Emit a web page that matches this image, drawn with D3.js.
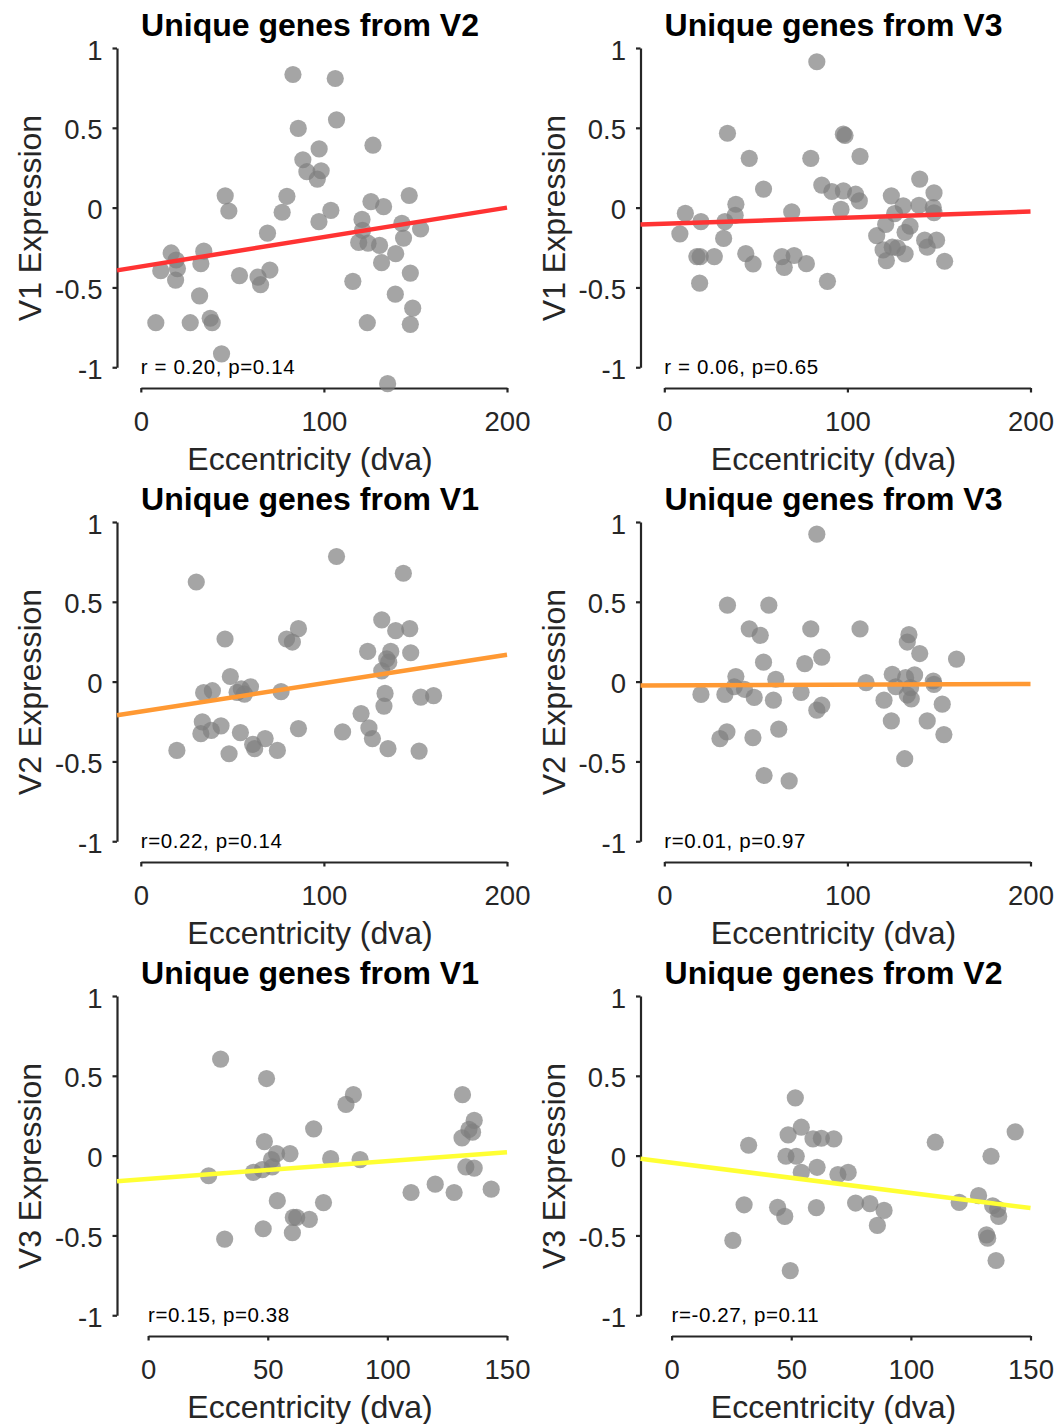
<!DOCTYPE html>
<meta charset="utf-8">
<script src="https://d3js.org/d3.v7.min.js"></script>
<style>
  body { margin: 0; background: #fff; }
  text { font-family: "Liberation Sans", Arial, Helvetica, sans-serif; }
</style>
<div id="my_dataviz"></div>
<script>

// ---- data: [eccentricity (dva), expression] ----
var v1FromV2 = [[83.1,0.834],[106.2,0.809],[106.9,0.550],[86.0,0.496],[126.8,0.391],[97.4,0.368],
  [88.5,0.300],[90.7,0.225],[98.5,0.231],[96.4,0.179],[46.1,0.074],[79.8,0.071],[146.6,0.076],
  [48.1,-0.021],[77.2,-0.029],[125.7,0.038],[132.6,0.006],[103.8,-0.017],[97.3,-0.088],[120.8,-0.074],
  [121.1,-0.143],[142.6,-0.099],[152.8,-0.134],[69.2,-0.160],[119.0,-0.218],[124.1,-0.223],[130.4,-0.237],
  [143.5,-0.191],[139.2,-0.288],[131.5,-0.345],[147.2,-0.410],[115.8,-0.462],[139.0,-0.542],[148.5,-0.630],
  [123.7,-0.721],[147.2,-0.731],[134.8,-1.103],[16.6,-0.284],[19.3,-0.328],[20.0,-0.382],[10.9,-0.395],
  [19.0,-0.454],[34.4,-0.273],[32.8,-0.351],[32.1,-0.553],[8.2,-0.721],[27.0,-0.721],[37.9,-0.693],
  [39.0,-0.721],[44.1,-0.916],[53.9,-0.426],[64.0,-0.435],[65.4,-0.483],[70.5,-0.391]];

var v1FromV3 = [[83.3,0.914],[34.5,0.466],[97.8,0.460],[98.7,0.452],[46.4,0.309],[80.0,0.309],
  [106.9,0.321],[54.2,0.116],[86.0,0.141],[91.5,0.101],[97.8,0.105],[104.5,0.084],[106.5,0.042],
  [96.5,-0.011],[139.5,0.179],[147.3,0.092],[124.0,0.074],[130.5,0.011],[139.1,0.015],[146.9,0.0],
  [147.3,-0.032],[125.8,-0.038],[120.9,-0.105],[134.2,-0.116],[131.5,-0.155],[116.0,-0.176],[142.2,-0.204],
  [148.7,-0.204],[143.6,-0.248],[119.5,-0.265],[124.5,-0.248],[127.3,-0.252],[131.5,-0.290],[121.3,-0.332],
  [153.1,-0.336],[69.6,-0.027],[11.5,-0.036],[20.0,-0.088],[39.1,0.021],[38.7,-0.048],[33.1,-0.088],
  [8.5,-0.164],[32.4,-0.193],[17.8,-0.307],[19.6,-0.307],[27.3,-0.307],[44.5,-0.288],[48.5,-0.353],
  [19.3,-0.473],[64.2,-0.307],[70.9,-0.300],[65.5,-0.374],[77.6,-0.351],[89.1,-0.462]];

var v2FromV1 = [[30.3,0.624],[106.9,0.784],[143.4,0.679],[46.0,0.267],[79.6,0.267],[82.8,0.248],
  [86.1,0.332],[131.6,0.387],[139.2,0.319],[146.9,0.332],[123.9,0.189],[136.5,0.189],[147.4,0.181],
  [134.3,0.143],[135.4,0.122],[131.6,0.067],[48.9,0.032],[34.3,-0.069],[39.1,-0.057],[52.6,-0.067],
  [54.9,-0.046],[59.9,-0.032],[56.6,-0.078],[76.6,-0.063],[133.4,-0.074],[132.8,-0.153],[152.9,-0.097],
  [159.9,-0.088],[120.3,-0.200],[33.6,-0.252],[32.8,-0.326],[38.5,-0.305],[43.8,-0.277],[54.4,-0.319],
  [61.1,-0.393],[62.2,-0.420],[67.9,-0.357],[86.1,-0.294],[110.2,-0.315],[124.6,-0.290],[126.5,-0.357],
  [19.7,-0.431],[48.2,-0.452],[74.6,-0.431],[135.0,-0.420],[152.0,-0.435]];

var v2FromV3 = [[83.3,0.924],[34.5,0.479],[57.1,0.479],[46.4,0.330],[52.4,0.290],[80.0,0.330],
  [106.9,0.330],[133.6,0.294],[132.7,0.248],[139.5,0.176],[159.6,0.141],[54.2,0.122],[76.7,0.113],
  [86.0,0.153],[39.1,0.032],[60.9,0.015],[38.2,-0.032],[43.8,-0.048],[20.0,-0.080],[33.1,-0.080],
  [49.1,-0.099],[59.6,-0.116],[74.7,-0.067],[86.0,-0.147],[83.3,-0.179],[110.2,-0.006],[124.5,0.046],
  [131.8,0.025],[136.7,0.042],[126.4,-0.032],[134.5,-0.038],[146.9,0.004],[147.3,-0.017],[132.7,-0.084],
  [134.9,-0.109],[120.0,-0.116],[151.8,-0.141],[124.0,-0.246],[143.6,-0.246],[152.7,-0.332],[131.3,-0.483],
  [34.2,-0.315],[30.4,-0.357],[48.4,-0.351],[62.5,-0.298],[54.5,-0.588],[68.2,-0.622]];

var v3FromV1 = [[30.3,0.605],[49.5,0.483],[85.8,0.382],[82.7,0.321],[69.2,0.168],[131.4,0.382],
  [136.3,0.221],[134.1,0.164],[135.6,0.147],[131.2,0.111],[48.6,0.088],[53.7,0.013],[59.3,0.013],
  [51.6,-0.025],[51.9,-0.071],[47.7,-0.088],[44.0,-0.105],[76.3,-0.019],[88.6,-0.025],[25.3,-0.126],
  [132.8,-0.071],[136.3,-0.078],[109.9,-0.231],[120.0,-0.179],[127.9,-0.231],[143.4,-0.210],[54.0,-0.282],
  [73.3,-0.294],[60.7,-0.387],[62.1,-0.387],[67.4,-0.399],[48.1,-0.458],[60.3,-0.483],[32.0,-0.523]];

var v3FromV2 = [[51.7,0.362],[54.2,0.178],[48.7,0.130],[59.1,0.105],[62.6,0.109],[67.8,0.105],
  [32.2,0.065],[110.2,0.084],[143.6,0.149],[47.8,-0.004],[52.1,-0.004],[133.5,-0.004],[60.8,-0.073],
  [54.2,-0.105],[69.5,-0.119],[73.8,-0.105],[30.3,-0.308],[44.3,-0.324],[47.3,-0.381],[60.5,-0.326],
  [76.9,-0.297],[82.9,-0.301],[88.8,-0.343],[86.0,-0.437],[120.2,-0.293],[128.3,-0.251],[134.2,-0.314],
  [136.3,-0.335],[136.7,-0.381],[131.6,-0.496],[132.1,-0.517],[135.6,-0.657],[25.6,-0.531],[49.6,-0.720]];

// regression lines: expression at the left and right ends of the x range
var fitEnds = [[-0.393, 0.000], [-0.106, -0.025], [-0.211, 0.168], [-0.025, -0.015], [-0.160, 0.021], [-0.020, -0.328]];

var titles = ["Unique genes from V2", "Unique genes from V3", "Unique genes from V1",
              "Unique genes from V3", "Unique genes from V1", "Unique genes from V2"];
var yLabels = ["V1 Expression", "V1 Expression", "V2 Expression", "V2 Expression", "V3 Expression", "V3 Expression"];
var stats = ["r = 0.20, p=0.14", "r = 0.06, p=0.65", "r=0.22, p=0.14", "r=0.01, p=0.97", "r=0.15, p=0.38", "r=-0.27, p=0.11"];
var xMax = [200, 200, 200, 200, 150, 150];
var xTicks = [[0, 100, 200], [0, 100, 200], [0, 100, 200], [0, 100, 200], [0, 50, 100, 150], [0, 50, 100, 150]];
var yTicks = [-1, -0.5, 0, 0.5, 1];
var lineColors = ["#ff3333", "#ff3333", "#ff9933", "#ff9933", "#ffff33", "#ffff33"];
var panels = [v1FromV2, v1FromV3, v2FromV1, v2FromV3, v3FromV1, v3FromV2];

// ---- layout ----
var W = 1057, H = 1424;
var plotW = 390, plotH = 340;
var lefts = [117, 640.5], tops = [48, 522, 996];
var axisColor = "#262626";

var svg = d3.select("#my_dataviz")
  .append("svg")
    .attr("width", W)
    .attr("height", H);

panels.forEach(function(data, i) {
  var col = i % 2, row = Math.floor(i / 2);
  var g = svg.append("g")
    .attr("transform", "translate(" + lefts[col] + "," + tops[row] + ")");

  var x = d3.scaleLinear().domain([-13, xMax[i]]).range([0, plotW]);
  var y = d3.scaleLinear().domain([-1.13, 1]).range([plotH, 0]);

  // offset axes, MATLAB style
  var xa = d3.scaleLinear().domain([0, xMax[i]]).range([x(0), x(xMax[i])]);
  var ya = d3.scaleLinear().domain([-1, 1]).range([y(-1), y(1)]);

  var gx = g.append("g")
    .attr("transform", "translate(0," + plotH + ")")
    .call(d3.axisBottom(xa).tickValues(xTicks[i]).tickFormat(function(d){ return String(d); })
      .tickSizeInner(4.5).tickSizeOuter(0).tickPadding(19));
  var gy = g.append("g")
    .call(d3.axisLeft(ya).tickValues(yTicks).tickFormat(function(d){ return String(d); })
      .tickSizeInner(4.5).tickSizeOuter(0).tickPadding(10));

  [gx, gy].forEach(function(a) {
    a.select(".domain").attr("stroke", axisColor).attr("stroke-width", 2.2);
    a.selectAll(".tick line").attr("stroke", axisColor).attr("stroke-width", 2.2);
    a.selectAll(".tick text").attr("fill", axisColor).style("font-size", "27.5px")
      .style("font-family", "'Liberation Sans', Arial, sans-serif");
  });
  gy.selectAll(".tick text").attr("dy", "0.4em");

  // dots
  g.selectAll("circle")
    .data(data)
    .enter()
    .append("circle")
      .attr("cx", function(d){ return x(d[0]); })
      .attr("cy", function(d){ return y(d[1]); })
      .attr("r", 8.6)
      .style("fill", "#7f7f7f")
      .style("fill-opacity", 0.7);

  // regression line
  g.append("line")
    .attr("x1", x(-13)).attr("y1", y(fitEnds[i][0]))
    .attr("x2", x(xMax[i])).attr("y2", y(fitEnds[i][1]))
    .attr("stroke", lineColors[i])
    .attr("stroke-width", 4.5);

  // stats text
  g.append("text")
    .attr("x", x(0))
    .attr("y", plotH - 14)
    .style("font-size", "20.5px")
    .style("letter-spacing", "0.6px")
    .attr("fill", "#000")
    .text(stats[i]);

  // title
  g.append("text")
    .attr("x", plotW / 2 - 2)
    .attr("y", -12)
    .attr("text-anchor", "middle")
    .style("font-size", "32px")
    .style("font-weight", "bold")
    .attr("fill", "#000")
    .text(titles[i]);

  // x label
  g.append("text")
    .attr("x", plotW / 2 - 2)
    .attr("y", plotH + 82)
    .attr("text-anchor", "middle")
    .style("font-size", "32px")
    .attr("fill", axisColor)
    .text("Eccentricity (dva)");

  // y label
  g.append("text")
    .attr("transform", "translate(-76," + (plotH / 2) + ") rotate(-90)")
    .attr("text-anchor", "middle")
    .style("font-size", "32px")
    .attr("fill", axisColor)
    .text(yLabels[i]);
});

</script>
